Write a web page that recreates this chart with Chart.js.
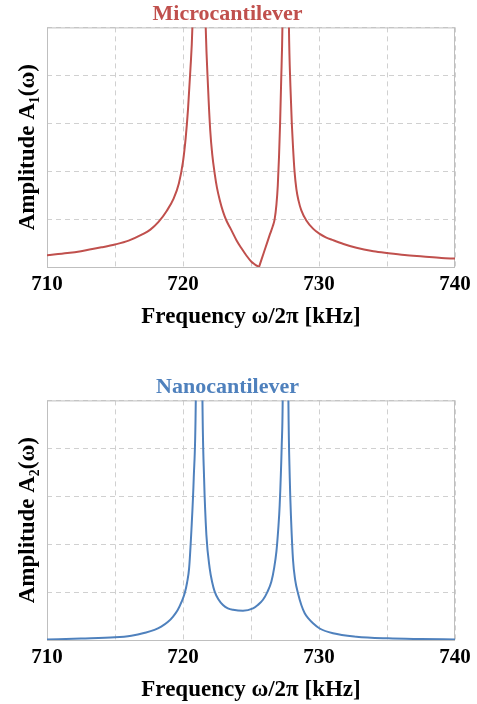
<!DOCTYPE html>
<html>
<head>
<meta charset="utf-8">
<script src="https://cdn.jsdelivr.net/npm/chart.js@4.4.1/dist/chart.umd.min.js"></script>
<style>
  body { margin: 0; background: #fff; }
  #wrap { position: relative; width: 477px; height: 704px; overflow: hidden; }
  .box { position: absolute; left: 0; width: 477px; height: 340px; }
</style>
</head>
<body>
<div id="wrap">
  <div class="box" style="top:0"><canvas id="micro"></canvas></div>
  <div class="box" style="top:373px"><canvas id="nano"></canvas></div>
</div>
<script>
// Frequency axis ticks (kHz)
const freqTicks = [710, 720, 730, 740];

// Microcantilever response (amplitude in grid units)
const freqMicro = [710, 711.5, 712.5, 714, 715, 716, 717, 717.6, 718.2, 718.8, 719.3,
  719.7, 720.0, 720.2, 720.37, 720.54, 720.69, 721.18, 721.67, 721.84, 722.0, 722.15,
  722.33, 722.5, 722.7, 722.95, 723.19, 723.5, 723.93, 724.3, 724.66, 725.03, 725.3,
  725.59, 725.8, 726.0, 726.2, 726.4, 726.6, 726.74, 726.87, 726.97, 727.06, 727.14,
  727.22, 727.31, 727.55, 727.79, 727.9, 728.0, 728.09, 728.2, 728.34, 728.5, 728.7,
  729.07, 729.56, 730.05, 730.5, 731.03, 731.8, 732.75, 734, 735.07, 736.3, 737.65,
  739, 740];
const ampMicro = [0.244, 0.29, 0.33, 0.41, 0.47, 0.55, 0.68, 0.78, 0.94, 1.17, 1.42,
  1.75, 2.2, 2.7, 3.3, 4.1, 5.0, 12, 5.0, 3.76, 2.86, 2.35,
  1.95, 1.65, 1.40, 1.15, 0.97, 0.80, 0.56, 0.39, 0.24, 0.11, 0.05,
  0, 0.18, 0.35, 0.52, 0.69, 0.85, 1.0, 1.3, 1.7, 2.3, 3.0,
  3.9, 5.0, 12, 5.0, 3.76, 3.0, 2.5, 2.0, 1.62, 1.38, 1.18,
  0.97, 0.80, 0.69, 0.62, 0.56, 0.48, 0.40, 0.33, 0.29, 0.25, 0.22,
  0.19, 0.175];

// Nanocantilever response
const freqNano = [710, 712.5, 715, 716.2, 717.2, 717.9, 718.4, 718.9, 719.27, 719.6, 719.9,
  720.13, 720.3, 720.45, 720.62, 720.79, 720.94, 721.19, 721.43, 721.55, 721.72, 721.96,
  722.15, 722.33, 722.6, 722.94, 723.3, 723.68, 724.41, 725.15, 725.5, 725.88, 726.2,
  726.5, 726.7, 726.87, 727.0, 727.11, 727.26, 727.33, 727.54, 727.75, 727.85, 727.95,
  728.09, 728.25, 728.46, 728.7, 728.95, 729.25, 729.56, 730.05, 731.03, 732.75, 735.07,
  737.5, 740];
const ampNano = [0.01, 0.03, 0.055, 0.09, 0.15, 0.21, 0.28, 0.38, 0.49, 0.62, 0.80,
  0.98, 1.2, 1.5, 2.3, 3.38, 5.0, 15, 5.0, 3.38, 2.19, 1.50,
  1.2, 1.01, 0.85, 0.73, 0.66, 0.63, 0.61, 0.66, 0.73, 0.84, 1.0,
  1.22, 1.5, 1.85, 2.3, 2.82, 4.07, 5.0, 15, 5.0, 3.38, 2.5,
  1.67, 1.25, 0.97, 0.73, 0.56, 0.44, 0.35, 0.24, 0.14, 0.07, 0.035,
  0.02, 0.01];

const serif = "'Liberation Serif', 'Times New Roman', serif";

// draws the grey box round the plot area
const frame = {
  id: 'frame',
  beforeDatasetsDraw(chart) {
    const a = chart.chartArea;
    const c = chart.ctx;
    c.save();
    c.strokeStyle = '#bfbfbf';
    c.lineWidth = 1;
    c.strokeRect(a.left + 0.5, a.top + 0.5, a.right - a.left - 1, a.bottom - a.top);
    c.restore();
  }
};

// split the curve where it touches zero so the cusp stays sharp
function splitAtZero(freq, amp) {
  const parts = [];
  let cur = [];
  freq.forEach((f, i) => {
    cur.push({ x: f, y: amp[i] });
    if (amp[i] === 0 && i > 0 && i < freq.length - 1) {
      parts.push(cur);
      cur = [{ x: f, y: amp[i] }];
    }
  });
  parts.push(cur);
  return parts;
}

function makeChart(id, title, color, yTitle, freq, amp) {
  const datasets = splitAtZero(freq, amp).map(pts => ({
    data: pts,
    borderColor: color,
    borderWidth: 2,
    pointRadius: 0,
    cubicInterpolationMode: 'monotone',
    clip: 0,
    fill: false
  }));
  return new Chart(document.getElementById(id), {
    type: 'line',
    data: { datasets },
    plugins: [frame],
    options: {
      responsive: true,
      maintainAspectRatio: false,
      animation: false,
      layout: { padding: { left: 0, right: 22, top: 0, bottom: 0 } },
      plugins: {
        legend: { display: false },
        tooltip: { enabled: false },
        title: {
          display: true,
          text: title,
          color: color,
          font: { family: serif, size: 22, weight: 'bold' },
          padding: { top: 1, bottom: 0 }
        }
      },
      scales: {
        x: {
          type: 'linear',
          min: 710,
          max: 740,
          afterFit: s => { s.height = 73; },
          afterBuildTicks: s => {
            s.ticks = [];
            for (let v = 710; v <= 740; v += 5) s.ticks.push({ value: v });
          },
          ticks: {
            autoSkip: false,
            maxRotation: 0,
            padding: 5,
            color: '#000',
            font: { family: serif, size: 21, weight: 'bold' },
            callback: v => freqTicks.includes(v) ? String(v) : ''
          },
          grid: { color: '#d0d0d0', drawTicks: false, lineWidth: 1 },
          border: { display: false, dash: [5, 4] },
          title: {
            display: true,
            text: 'Frequency ω/2π [kHz]',
            color: '#000',
            font: { family: serif, size: 23, weight: 'bold' },
            padding: { top: 0, bottom: 9 }
          }
        },
        y: {
          min: 0,
          max: 5,
          afterFit: s => { s.width = 47; },
          ticks: { stepSize: 1, display: false },
          grid: { color: '#d0d0d0', drawTicks: false, lineWidth: 1 },
          border: { display: false, dash: [5, 4] },
          title: {
            display: true,
            text: yTitle,
            color: '#000',
            font: { family: serif, size: 23, weight: 'bold' },
            padding: { top: 14, bottom: 0 }
          }
        }
      }
    }
  });
}

makeChart('micro', 'Microcantilever', '#c0504d', 'Amplitude A₁(ω)', freqMicro, ampMicro);
makeChart('nano', 'Nanocantilever', '#4f81bd', 'Amplitude A₂(ω)', freqNano, ampNano);
</script>
</body>
</html>
